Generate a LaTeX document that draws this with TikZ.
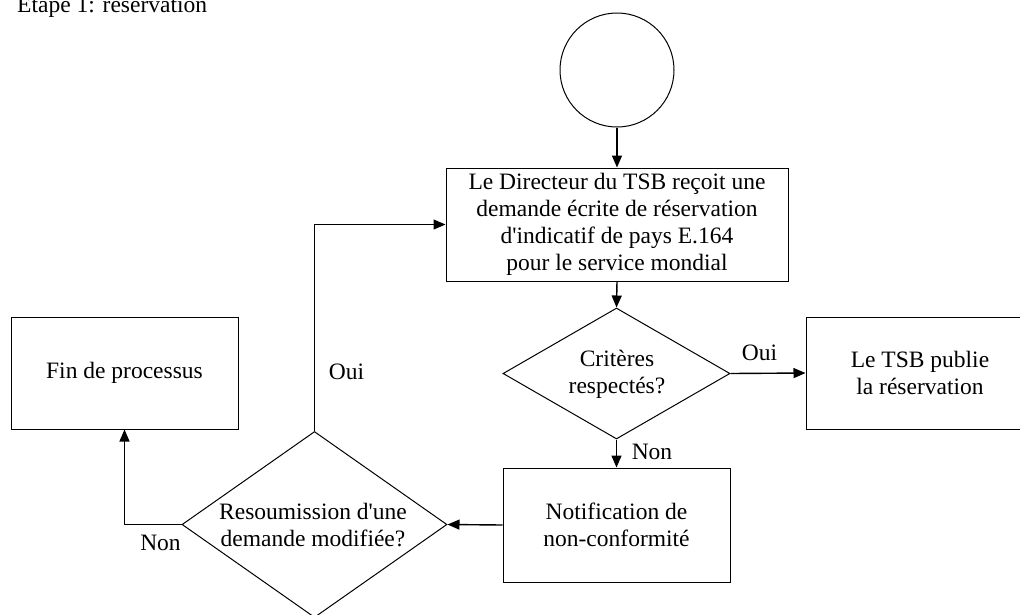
\documentclass[tikz,border=0pt]{standalone}
\usepackage{fontspec}
\setmainfont{Liberation Serif}[Ligatures=TeXOff]
\usetikzlibrary{shapes.geometric,arrows.meta}
\tikzset{
  box/.style={draw, line width=1pt, rectangle, inner sep=0pt, align=center},
  dia/.style={draw, line width=1pt, diamond, inner sep=0pt},
  startc/.style={draw, line width=1pt, circle, inner sep=0pt, minimum size=114pt},
  txt/.style={inner sep=0pt, align=center},
  arr/.style={line width=1.4pt, -{Triangle[width=10pt,length=12pt]}},
  conn/.style={line width=1.2pt, -{Triangle[width=10pt,length=12pt]}}
}
\begin{document}
\begin{tikzpicture}[x=1pt,y=-1pt,font=\fontsize{23.5}{27}\selectfont]
\clip (0,0) rectangle (1020,614);
\fill[white] (0,0) rectangle (1020,614);
\node[txt, anchor=base west] (title) at (17,12) {Etape 1: reservation};
\node[startc] (start) at (617,70) {};
\node[box, minimum width=342pt, minimum height=113pt] (recv) at (617,224.5)
  {Le Directeur du TSB reçoit une\\demande écrite de réservation\\d'indicatif de pays E.164\\pour le service mondial};
\node[dia, minimum width=227pt, minimum height=131pt] (crit) at (616.5,373.5) {};
\node[txt] (critt) at (617,374) {Critères\\respectés?};
\node[box, minimum width=228pt, minimum height=112pt] (pub) at (920,373) {Le TSB publie\\la réservation};
\node[box, minimum width=227pt, minimum height=114pt] (notif) at (616.5,525) {Notification de\\non-conformité};
\node[dia, minimum width=265pt, minimum height=186pt] (resub) at (314.5,524.5) {};
\node[txt] (resubt) at (313,525) {Resoumission d'une\\demande modifiée?};
\node[box, minimum width=227pt, minimum height=112pt] (fin) at (124.5,373) {Fin de processus};

\draw[arr] (start.south) -- (recv.north);
\draw[arr] (recv.south) -- (crit.north);
\draw[arr] (crit.east) -- (pub.west);
\draw[arr] (crit.south) -- (notif.north);
\draw[arr] (notif.west) -- (resub.east);
\draw[conn] (resub.north) |- (recv.west);
\draw[conn] (resub.west) -| (fin.south);

\node[txt] (oui1) at (759.5,353) {Oui};
\node[txt] (non1) at (652,452) {Non};
\node[txt] (oui2) at (346.5,372) {Oui};
\node[txt] (non2) at (160.5,543) {Non};
\end{tikzpicture}
\end{document}
